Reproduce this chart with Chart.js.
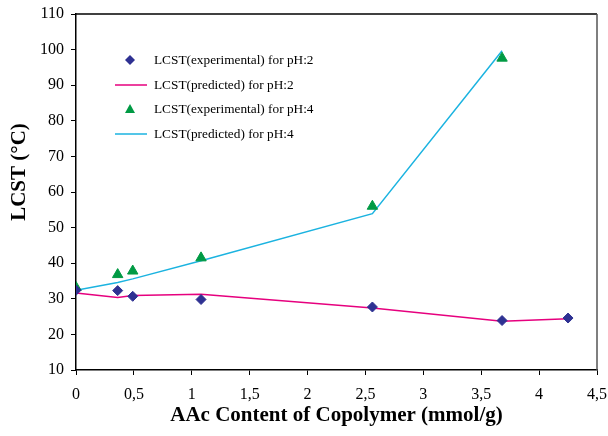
<!DOCTYPE html>
<html lang="en">
<head>
    <meta charset="UTF-8">
    <title>LCST vs AAc content</title>
    <script src="https://cdn.jsdelivr.net/npm/chart.js@4.4.0/dist/chart.umd.min.js"></script>
    <style>
        * { margin: 0; padding: 0; box-sizing: border-box; }
        body { background: #fff; width: 608px; height: 436px; overflow: hidden; }
        #wrap { position: relative; width: 608px; height: 436px; }
    </style>
</head>
<body>
    <div id="wrap">
        <canvas id="lcstChart" width="608" height="436"></canvas>
    </div>

    <script>
        // AAc content (mmol/g) and measured / predicted LCST (°C)
        const aacPh2 = [0, 0.36, 0.49, 1.08, 2.56, 3.68, 4.25];
        const expPh2 = [32.4, 32.3, 30.7, 29.8, 27.7, 23.9, 24.6];
        const predPh2 = [31.6, 30.4, 30.9, 31.3, 27.4, 23.7, 24.4];

        const aacPh4 = [0, 0.36, 0.49, 1.08, 2.56, 3.68];
        const expPh4 = [33.2, 36.8, 37.8, 41.5, 56.0, 97.6];
        const predPh4 = [32.4, 34.6, 35.6, 40.7, 53.9, 99.7];

        const xTicks = [0, 0.5, 1, 1.5, 2, 2.5, 3, 3.5, 4, 4.5];
        const yTicks = [10, 20, 30, 40, 50, 60, 70, 80, 90, 100, 110];

        const serif = '"Liberation Serif", "DejaVu Serif", serif';

        const toPoints = (xs, ys) => xs.map((x, i) => ({ x: x, y: ys[i] }));

        // keep label overflow from squeezing the plot area
        const noOverflow = (scale) => {
            scale.paddingLeft = 0;
            scale.paddingRight = 0;
            scale.paddingTop = 0;
            scale.paddingBottom = 0;
        };

        // frame on top/right, y title and the legend inside the plot
        const framePlugin = {
            id: 'frame',
            afterDraw(chart) {
                const ctx = chart.ctx;
                const a = chart.chartArea;
                ctx.save();
                ctx.lineWidth = 1.5;
                ctx.strokeStyle = '#000';
                ctx.beginPath();
                ctx.moveTo(a.left, a.top);
                ctx.lineTo(a.right, a.top);
                ctx.stroke();
                ctx.strokeStyle = '#555';
                ctx.beginPath();
                ctx.moveTo(a.right, a.top);
                ctx.lineTo(a.right, a.bottom);
                ctx.stroke();

                // y axis title, sits a bit above the middle
                ctx.save();
                ctx.translate(20, 172);
                ctx.rotate(-Math.PI / 2);
                ctx.font = 'bold 21px ' + serif;
                ctx.fillStyle = '#000';
                ctx.textAlign = 'center';
                ctx.textBaseline = 'middle';
                ctx.fillText('LCST (°C)', 0, 0);
                ctx.restore();

                // legend
                const rows = [60, 85, 109, 134];
                ctx.font = '13.3px ' + serif;
                ctx.textBaseline = 'middle';
                ctx.textAlign = 'left';
                chart.data.datasets.forEach((ds, i) => {
                    const y = rows[i];
                    if (ds.showLine) {
                        ctx.strokeStyle = ds.borderColor;
                        ctx.lineWidth = ds.borderWidth;
                        ctx.beginPath();
                        ctx.moveTo(115, y);
                        ctx.lineTo(147, y);
                        ctx.stroke();
                    } else {
                        ctx.fillStyle = ds.backgroundColor;
                        ctx.beginPath();
                        if (ds.pointStyle === 'triangle') {
                            ctx.moveTo(130, y - 5);
                            ctx.lineTo(135, y + 4);
                            ctx.lineTo(125, y + 4);
                        } else {
                            ctx.moveTo(130, y - 5);
                            ctx.lineTo(135, y);
                            ctx.lineTo(130, y + 5);
                            ctx.lineTo(125, y);
                        }
                        ctx.closePath();
                        ctx.fill();
                    }
                    ctx.fillStyle = '#000';
                    ctx.fillText(ds.label, 154, y + 1);
                });
                ctx.restore();
            }
        };

        const ctx = document.getElementById('lcstChart').getContext('2d');
        new Chart(ctx, {
            type: 'scatter',
            data: {
                datasets: [
                    {
                        label: 'LCST(experimental) for pH:2',
                        data: toPoints(aacPh2, expPh2),
                        showLine: false,
                        pointStyle: 'rectRot',
                        pointRadius: 5,
                        backgroundColor: '#2e3192',
                        borderColor: '#2e3192',
                        order: 1
                    },
                    {
                        label: 'LCST(predicted) for pH:2',
                        data: toPoints(aacPh2, predPh2),
                        showLine: true,
                        pointRadius: 0,
                        borderColor: '#e6007e',
                        borderWidth: 1.5,
                        order: 2
                    },
                    {
                        label: 'LCST(experimental) for pH:4',
                        data: toPoints(aacPh4, expPh4),
                        showLine: false,
                        pointStyle: 'triangle',
                        pointRadius: 6,
                        backgroundColor: '#009a44',
                        borderColor: '#009a44',
                        order: 1
                    },
                    {
                        label: 'LCST(predicted) for pH:4',
                        data: toPoints(aacPh4, predPh4),
                        showLine: true,
                        pointRadius: 0,
                        borderColor: '#1bb3e0',
                        borderWidth: 1.5,
                        order: 2
                    }
                ]
            },
            options: {
                responsive: false,
                animation: false,
                layout: { padding: { top: 14, right: 11, left: 0, bottom: 8 } },
                plugins: {
                    legend: { display: false },
                    tooltip: { enabled: false }
                },
                scales: {
                    x: {
                        type: 'linear',
                        min: 0,
                        max: 4.5,
                        afterBuildTicks: (scale) => { scale.ticks = xTicks.map(v => ({ value: v })); },
                        afterFit: (scale) => { scale.height = 58; noOverflow(scale); },
                        grid: { drawOnChartArea: false, drawTicks: true, tickLength: 5, color: '#000', lineWidth: 1 },
                        border: { display: true, color: '#000', width: 1.5 },
                        ticks: {
                            color: '#000',
                            font: { family: serif, size: 16 },
                            padding: 10,
                            maxRotation: 0,
                            callback: (v) => String(v).replace('.', ',')
                        },
                        title: {
                            display: true,
                            text: 'AAc Content of Copolymer (mmol/g)',
                            color: '#000',
                            font: { family: serif, size: 21, weight: 'bold' },
                            padding: { top: 0, bottom: 0 }
                        }
                    },
                    y: {
                        min: 10,
                        max: 110,
                        afterBuildTicks: (scale) => { scale.ticks = yTicks.map(v => ({ value: v })); },
                        afterFit: (scale) => { scale.width = 76; noOverflow(scale); },
                        grid: { drawOnChartArea: false, drawTicks: true, tickLength: 5, color: '#000', lineWidth: 1 },
                        border: { display: true, color: '#000', width: 1.5 },
                        ticks: {
                            color: '#000',
                            font: { family: serif, size: 16 },
                            padding: 7
                        }
                    }
                }
            },
            plugins: [framePlugin]
        });
    </script>
</body>
</html>
